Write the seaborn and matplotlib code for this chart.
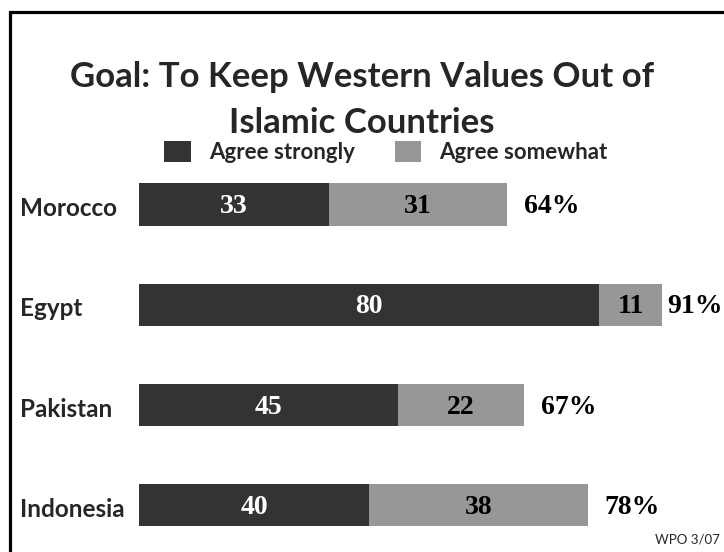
import numpy as np
import pandas as pd
import seaborn as sns
import matplotlib.pyplot as plt
import matplotlib.transforms as mtransforms
from matplotlib.patches import Rectangle

# data
countries = ["Morocco", "Egypt", "Pakistan", "Indonesia"]
agree_strongly = [33, 80, 45, 40]
agree_somewhat = [31, 11, 22, 38]
title = "Goal: To Keep Western Values Out of\nIslamic Countries"
source = "WPO 3/07"

df = pd.DataFrame({"country": countries,
                   "strongly": agree_strongly,
                   "somewhat": agree_somewhat})
df["total"] = df["strongly"] + df["somewhat"]

dark = "#333333"
light = "#979797"
sans = "Lato"
serif = "Liberation Serif"

sns.set_style("white")
W, H = 724, 552
fig = plt.figure(figsize=(W / 100, H / 100), dpi=100)

# axes placed so bars start at x=139px, 5.75 px per percent point
x0 = 139
ax = fig.add_axes([x0 / W, 0, (W - x0) / W, (H - 154) / H])
ax.set_facecolor("none")

sns.barplot(data=df, x="total", y="country", orient="h", color=light,
            width=0.42, saturation=1, linewidth=0, label="Agree somewhat", ax=ax)
sns.barplot(data=df, x="strongly", y="country", orient="h", color=dark,
            width=0.42, saturation=1, linewidth=0, label="Agree strongly", ax=ax)

xmax = (W - x0) / 5.75
ax.set_xlim(0, xmax)
ax.set_ylim(3.465, -0.504)
ax.axis("off")

# numbers inside the bars and totals
num_kw = dict(va="center", fontsize=20, fontweight="bold", family=serif)
for i, row in df.iterrows():
    ax.text(row["strongly"] / 2, i + 0.02, str(row["strongly"]), ha="center",
            color="white", **num_kw)
    ax.text(row["strongly"] + row["somewhat"] / 2, i + 0.02, str(row["somewhat"]),
            ha="center", color="black", **num_kw)
    # keep the total inside the picture when the bar is long
    ax.text(min(row["total"] + 3, xmax - 9.9), i + 0.02, f"{row['total']}%",
            ha="left", color="black", **num_kw)

# country names, left aligned near the frame
trans = mtransforms.blended_transform_factory(fig.transFigure, ax.transData)
for i, c in enumerate(countries):
    ax.text(20 / W, i + 0.04, c, transform=trans, ha="left", va="center",
            fontsize=17.5, fontweight="bold", family=sans)

# legend (dark first)
handles, labels = ax.get_legend_handles_labels()
order = [labels.index("Agree strongly"), labels.index("Agree somewhat")]
fig.legend([handles[k] for k in order], [labels[k] for k in order],
           loc="center", bbox_to_anchor=(386 / W, 1 - 152 / H), ncol=2,
           frameon=False, handlelength=1.2, handleheight=1.1,
           columnspacing=1.8, handletextpad=0.8,
           prop={"family": sans, "weight": "bold", "size": 16})
if ax.get_legend():
    ax.get_legend().remove()

fig.text(0.5, 1 - 100 / H, title, ha="center", va="center", fontsize=25,
         fontweight="bold", family=sans, linespacing=1.55)
fig.text(720 / W, 1 - 540 / H, source, ha="right", va="center",
         fontsize=9.5, family=sans)

# frame: only top and left edges are inside the picture
fig.add_artist(Rectangle((9.5 / W, -0.1), 1.2, 1.1 - 11.5 / H,
                         transform=fig.transFigure, fill=False,
                         edgecolor="black", linewidth=2.3))

fig.savefig("out.png", dpi=100)
